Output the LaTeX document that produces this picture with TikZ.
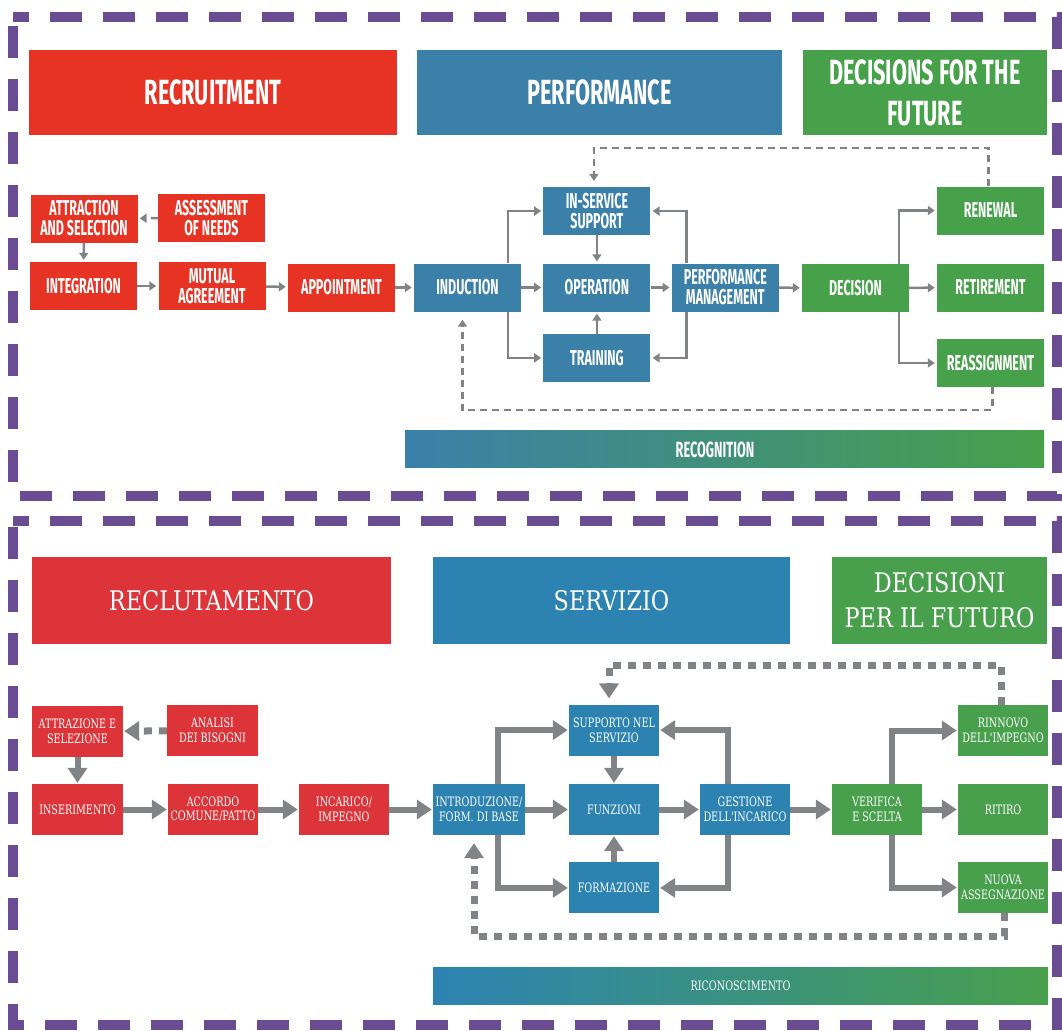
\documentclass[tikz,border=0pt]{standalone}
\usepackage{fontspec}
\usetikzlibrary{arrows.meta}
\usetikzlibrary{positioning}

\newfontfamily\condsans[FakeStretch=0.62]{Fira Sans}
\newfontfamily\condbox[FakeStretch=0.58]{Fira Sans}
\newfontfamily\slab[FakeStretch=0.74]{DejaVu Serif}
\newfontfamily\slabhead[FakeStretch=0.83]{DejaVu Serif}

\definecolor{redA}{RGB}{230,51,35}
\definecolor{blueA}{RGB}{58,128,169}
\definecolor{greenA}{RGB}{71,161,74}
\definecolor{redB}{RGB}{220,52,57}
\definecolor{blueB}{RGB}{44,131,178}
\definecolor{greenB}{RGB}{72,160,76}
\definecolor{arrgray}{RGB}{128,132,135}
\definecolor{frame}{RGB}{106,76,146}

\begin{document}
\begin{tikzpicture}[x=1pt,y=-1pt]
 \useasboundingbox (0,0) rectangle (1062,1030);

 % purple frames
 \tikzstyle{fr} = [draw=frame, line width=10pt, dash pattern=on 32pt off 21pt, dash phase=16pt];
 \draw [fr] (13,17) -- (1057,17) -- (1057,496) -- (13,496) -- cycle;
 \draw [fr] (13,521) -- (1057,521) -- (1057,1025) -- (13,1025) -- cycle;

 %%% english version
 \tikzstyle{hd} = [text=white, inner sep=0pt, align=center, minimum height=85pt, font=\condsans\bfseries\fontsize{35}{41}\selectfont];
 \tikzstyle{box} = [text=white, inner sep=0pt, align=center, minimum width=107pt, minimum height=48pt, font=\condbox\bfseries\fontsize{21.5}{20}\selectfont];

 \node (recruit) [hd, fill=redA, minimum width=368pt] at (213,92.5) {RECRUITMENT};
 \node (perform) [hd, fill=blueA, minimum width=365pt] at (599.5,92.5) {PERFORMANCE};
 \node (future) [hd, fill=greenA, minimum width=244pt] at (925,92.5) {DECISIONS FOR THE\\FUTURE};

 \node (attract) [box, fill=redA] at (84,218.5) {ATTRACTION\\AND SELECTION};
 \node (assess) [box, fill=redA] at (211.5,218) {ASSESSMENT\\OF NEEDS};
 \node (integ) [box, fill=redA] at (83.5,286) {INTEGRATION};
 \node (mutual) [box, fill=redA] at (212,286) {MUTUAL\\AGREEMENT};
 \node (appoint) [box, fill=redA] at (341.5,287.5) {APPOINTMENT};
 \node (induct) [box, fill=blueA] at (467.5,287.5) {INDUCTION};
 \node (oper) [box, fill=blueA, right=22pt of induct] {OPERATION};
 \node (support) [box, fill=blueA, above=28pt of oper] {IN-SERVICE\\SUPPORT};
 \node (train) [box, fill=blueA, below=22pt of oper] {TRAINING};
 \node (perfman) [box, fill=blueA, right=21pt of oper] {PERFORMANCE\\MANAGEMENT};
 \node (decide) [box, fill=greenA] at (855.5,288) {DECISION};
 \node (renew) [box, fill=greenA] at (990.5,210.5) {RENEWAL};
 \node (retire) [box, fill=greenA] at (990.5,287.5) {RETIREMENT};
 \node (reassign) [box, fill=greenA] at (990.5,363) {REASSIGNMENT};

 \node (recog) [minimum width=639pt, minimum height=37pt, inner sep=0pt, left color=blueA, right color=greenA] at (724.5,448.5) {};
 \node (recogtxt) [text=white, font=\condbox\bfseries\fontsize{22}{19}\selectfont] at (715,449.5) {RECOGNITION};

 \tikzstyle{C} = [draw=arrgray, line width=2.5pt, -{Triangle[length=7pt,width=9pt]}, shorten >=2pt];
 \tikzstyle{Cd} = [C, dash pattern=on 7pt off 5pt];

 \draw [Cd] (assess) -- (attract);
 \draw [C] (attract) -- (integ);
 \draw [C] (integ) -- (mutual);
 \draw [C] (mutual) -- (appoint);
 \draw [C] (appoint) -- (induct);
 \draw [C] (induct) -- (oper);
 \draw [C] ([xshift=-13pt]induct.north east) |- (support);
 \draw [C] ([xshift=-13pt]induct.south east) |- (train);
 \draw [C] (support) -- (oper);
 \draw [C] (train) -- (oper);
 \draw [C] (oper) -- (perfman);
 \draw [C] ([xshift=15pt]perfman.north west) |- (support);
 \draw [C] ([xshift=15pt]perfman.south west) |- (train);
 \draw [C] (perfman) -- (decide);
 \draw [C] ([xshift=-10pt]decide.north east) |- (renew);
 \draw [C] (decide) -- (retire);
 \draw [C] ([xshift=-10pt]decide.south east) |- (reassign);

 \coordinate (loopA) at (0,148);
 \coordinate (loopB) at (0,410);
 \draw [Cd, shorten >=6pt] ([xshift=-2pt]renew.north) -- ([xshift=-2pt]renew.north |- loopA) -| ([xshift=-3pt]support.north);
 \draw [Cd, shorten >=8pt] ([xshift=2pt]reassign.south) -- ([xshift=2pt]reassign.south |- loopB) -| ([xshift=-5pt]induct.south);

 %%% italian version
 \tikzstyle{hdit} = [text=white, inner sep=0pt, align=center, minimum height=87pt, font=\slabhead\fontsize{27}{35}\selectfont];
 \tikzstyle{boxit} = [text=white, inner sep=0pt, align=center, minimum width=90pt, minimum height=51pt, font=\slab\fontsize{13}{14.5}\selectfont];

 \node (reclut) [hdit, fill=redB, minimum width=359pt] at (211.5,600.5) {RECLUTAMENTO};
 \node (servizio) [hdit, fill=blueB, minimum width=357pt] at (611.5,600.5) {SERVIZIO};
 \node (futuro) [hdit, fill=greenB, minimum width=215pt] at (939.5,600.5) {DECISIONI\\PER IL FUTURO};

 \node (attraz) [boxit, fill=redB, minimum width=91pt] at (77.5,731.5) {ATTRAZIONE E\\SELEZIONE};
 \node (analisi) [boxit, fill=redB, minimum width=91pt] at (212.5,730.5) {ANALISI\\DEI BISOGNI};
 \node (inser) [boxit, fill=redB, minimum width=91pt] at (77.5,809.5) {INSERIMENTO};
 \node (accordo) [boxit, fill=redB] at (213,809.5) {ACCORDO\\COMUNE/PATTO};
 \node (incarico) [boxit, fill=redB] at (344,809.5) {INCARICO/\\IMPEGNO};
 \node (introd) [boxit, fill=blueB, minimum width=92pt] at (479,809.5) {INTRODUZIONE/\\FORM. DI BASE};
 \node (funz) [boxit, fill=blueB] at (614,809.5) {FUNZIONI};
 \node (suppo) [boxit, fill=blueB, above=28pt of funz] {SUPPORTO NEL\\SERVIZIO};
 \node (formaz) [boxit, fill=blueB, below=27pt of funz] {FORMAZIONE};
 \node (gestione) [boxit, fill=blueB] at (745,809.5) {GESTIONE\\DELL'INCARICO};
 \node (verifica) [boxit, fill=greenB] at (877,809.5) {VERIFICA\\E SCELTA};
 \node (rinnovo) [boxit, fill=greenB] at (1003,730.5) {RINNOVO\\DELL'IMPEGNO};
 \node (ritiro) [boxit, fill=greenB] at (1003,809.5) {RITIRO};
 \node (nuova) [boxit, fill=greenB] at (1003,887.5) {NUOVA\\ASSEGNAZIONE};

 \node (ricon) [boxit, minimum width=615pt, minimum height=37pt, left color=blueB, right color=greenB] at (740.5,985.5) {RICONOSCIMENTO};

 \tikzstyle{T} = [draw=arrgray, line width=6pt, -{Triangle[length=15pt,width=19pt]}, shorten >=1pt];
 \tikzstyle{Td} = [T, line width=7pt, dash pattern=on 8pt off 7pt];

 \draw [Td] (analisi) -- (attraz);
 \draw [T] (attraz) -- (inser);
 \draw [T] (inser) -- (accordo);
 \draw [T] (accordo) -- (incarico);
 \draw [T] (incarico) -- (introd);
 \draw [T] (introd) -- (funz);
 \draw [T] ([xshift=65pt]introd.north west) |- (suppo);
 \draw [T] ([xshift=65pt]introd.south west) |- (formaz);
 \draw [T] (suppo) -- (funz);
 \draw [T] (formaz) -- (funz);
 \draw [T] (funz) -- (gestione);
 \draw [T] ([xshift=28pt]gestione.north west) |- (suppo);
 \draw [T] ([xshift=28pt]gestione.south west) |- (formaz);
 \draw [T] (gestione) -- (verifica);
 \draw [T] ([xshift=15pt]verifica.north) |- (rinnovo);
 \draw [T] (verifica) -- (ritiro);
 \draw [T] ([xshift=15pt]verifica.south) |- (nuova);

 \coordinate (loopC) at (0,665);
 \coordinate (loopD) at (0,936);
 \draw [Td, shorten >=6pt] ([xshift=-2pt]rinnovo.north) -- ([xshift=-2pt]rinnovo.north |- loopC) -| ([xshift=-5pt]suppo.north);
 \draw [Td, shorten >=8pt] ([xshift=1pt]nuova.south) -- ([xshift=1pt]nuova.south |- loopD) -| ([xshift=-5pt]introd.south);

\end{tikzpicture}
\end{document}
